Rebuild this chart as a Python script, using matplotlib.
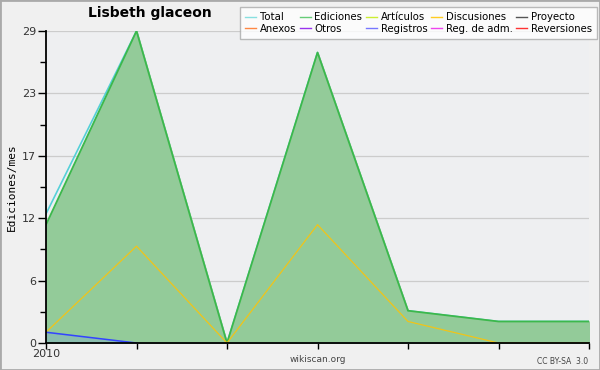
import matplotlib
matplotlib.use('Agg')
import matplotlib.pyplot as plt
from matplotlib.lines import Line2D
from matplotlib.patches import Rectangle

# ============================================================
# Datos (ediciones por mes, desde 2010)
# ============================================================
meses = [0, 1, 2, 3, 4, 5, 6]
etiquetas_x = ['2010', '', '', '', '', '', '']
total = [12, 29, 0, 27, 3, 2, 2]
ediciones = [11, 29, 0, 27, 3, 2, 2]
discusiones = [1, 9, 0, 11, 2, 0, 0]
registros = [1, 0, 0, 0, 0, 0, 0]

y_max = 29
y_ticks = [0, 5.8, 11.6, 17.4, 23.2, 29]
y_labels = ['0', '6', '12', '17', '23', '29']

series_leyenda = ['Total', 'Anexos', 'Ediciones', 'Otros', 'Artículos', 'Registros',
                  'Discusiones', 'Reg. de adm.', 'Proyecto', 'Reversiones']
colores_leyenda = ['#88e0e0', '#ff8844', '#66cc77', '#9933ee', '#ccee33', '#7777ff',
                   '#ffcc22', '#ee44ee', '#555555', '#ff3333']

# ============================================================
# Figura
# ============================================================
fig = plt.figure(figsize=(6, 3.7), dpi=100, facecolor='#f0f0f0')
fig.patches.append(Rectangle((0, 0), 1, 1, transform=fig.transFigure, fill=False,
                             edgecolor='#aaaaaa', linewidth=2))
ax = fig.add_axes([46 / 600, 1 - 343 / 370, (589 - 46) / 600, (343 - 31) / 370])
ax.set_facecolor('#eeeff1')

# Total (debajo), Ediciones con relleno
ax.plot(meses, total, color='#55d0d8', linewidth=1.2, zorder=2)
ax.fill_between(meses, ediciones, color='#93cb99', zorder=3)
ax.plot(meses, ediciones, color='#3cb84c', linewidth=1.3, zorder=4)
ax.fill_between(meses, registros, color='#7aa8d8', alpha=0.35, zorder=4)
ax.plot(meses, discusiones, color='#f0c419', linewidth=0.9, zorder=5)
ax.plot(meses[:2], registros[:2], color='#3344ff', linewidth=1.1, zorder=5)

ax.set_xlim(0, 6)
ax.set_ylim(0, y_max)
ax.set_yticks(y_ticks)
ax.set_yticklabels(y_labels)
ax.set_yticks([2.9, 8.7, 14.5, 20.3, 26.1], minor=True)
ax.set_xticks(meses)
ax.set_xticklabels(etiquetas_x)
ax.tick_params(axis='x', length=4, width=1, pad=0, labelsize=8, colors='black', labelcolor='#333333')
ax.tick_params(axis='y', which='major', length=6, width=1, pad=1, labelsize=8, labelcolor='#333333')
ax.tick_params(axis='y', which='minor', length=4, width=1)
ax.grid(True, axis='y', color='#cccccc', linewidth=0.9, zorder=1)
ax.set_axisbelow(True)
for s in ['top', 'right']:
    ax.spines[s].set_visible(False)
for s in ['left', 'bottom']:
    ax.spines[s].set_linewidth(1.3)
    ax.spines[s].set_zorder(6)

ax.set_ylabel('Ediciones/mes', fontsize=8, family='DejaVu Sans Mono', labelpad=4)

fig.text(150 / 600, 1 - 13 / 370, 'Lisbeth glaceon', fontsize=10, fontweight='bold',
         ha='center', va='center')
fig.text(318 / 600, 1 - 360 / 370, 'wikiscan.org', fontsize=6.5, color='#444444',
         ha='center', va='center')
fig.text(588 / 600, 1 - 361 / 370, 'CC BY-SA  3.0', fontsize=5.5, color='#444444',
         ha='right', va='center')

# Leyenda
handles = [Line2D([0], [0], color=c, linewidth=1) for c in colores_leyenda]
leg = fig.legend(handles, series_leyenda, ncol=5, loc='upper right',
                 bbox_to_anchor=(597 / 600, 1 - 7 / 370), fontsize=7.3,
                 frameon=True, fancybox=False, handlelength=1.1, handletextpad=0.35,
                 columnspacing=0.35, labelspacing=0.15, borderpad=0.5, borderaxespad=0)
leg.get_frame().set_edgecolor('#aaaaaa')
leg.get_frame().set_facecolor('white')
leg.get_frame().set_linewidth(1)

fig.savefig('out.png', dpi=100, facecolor=fig.get_facecolor())
